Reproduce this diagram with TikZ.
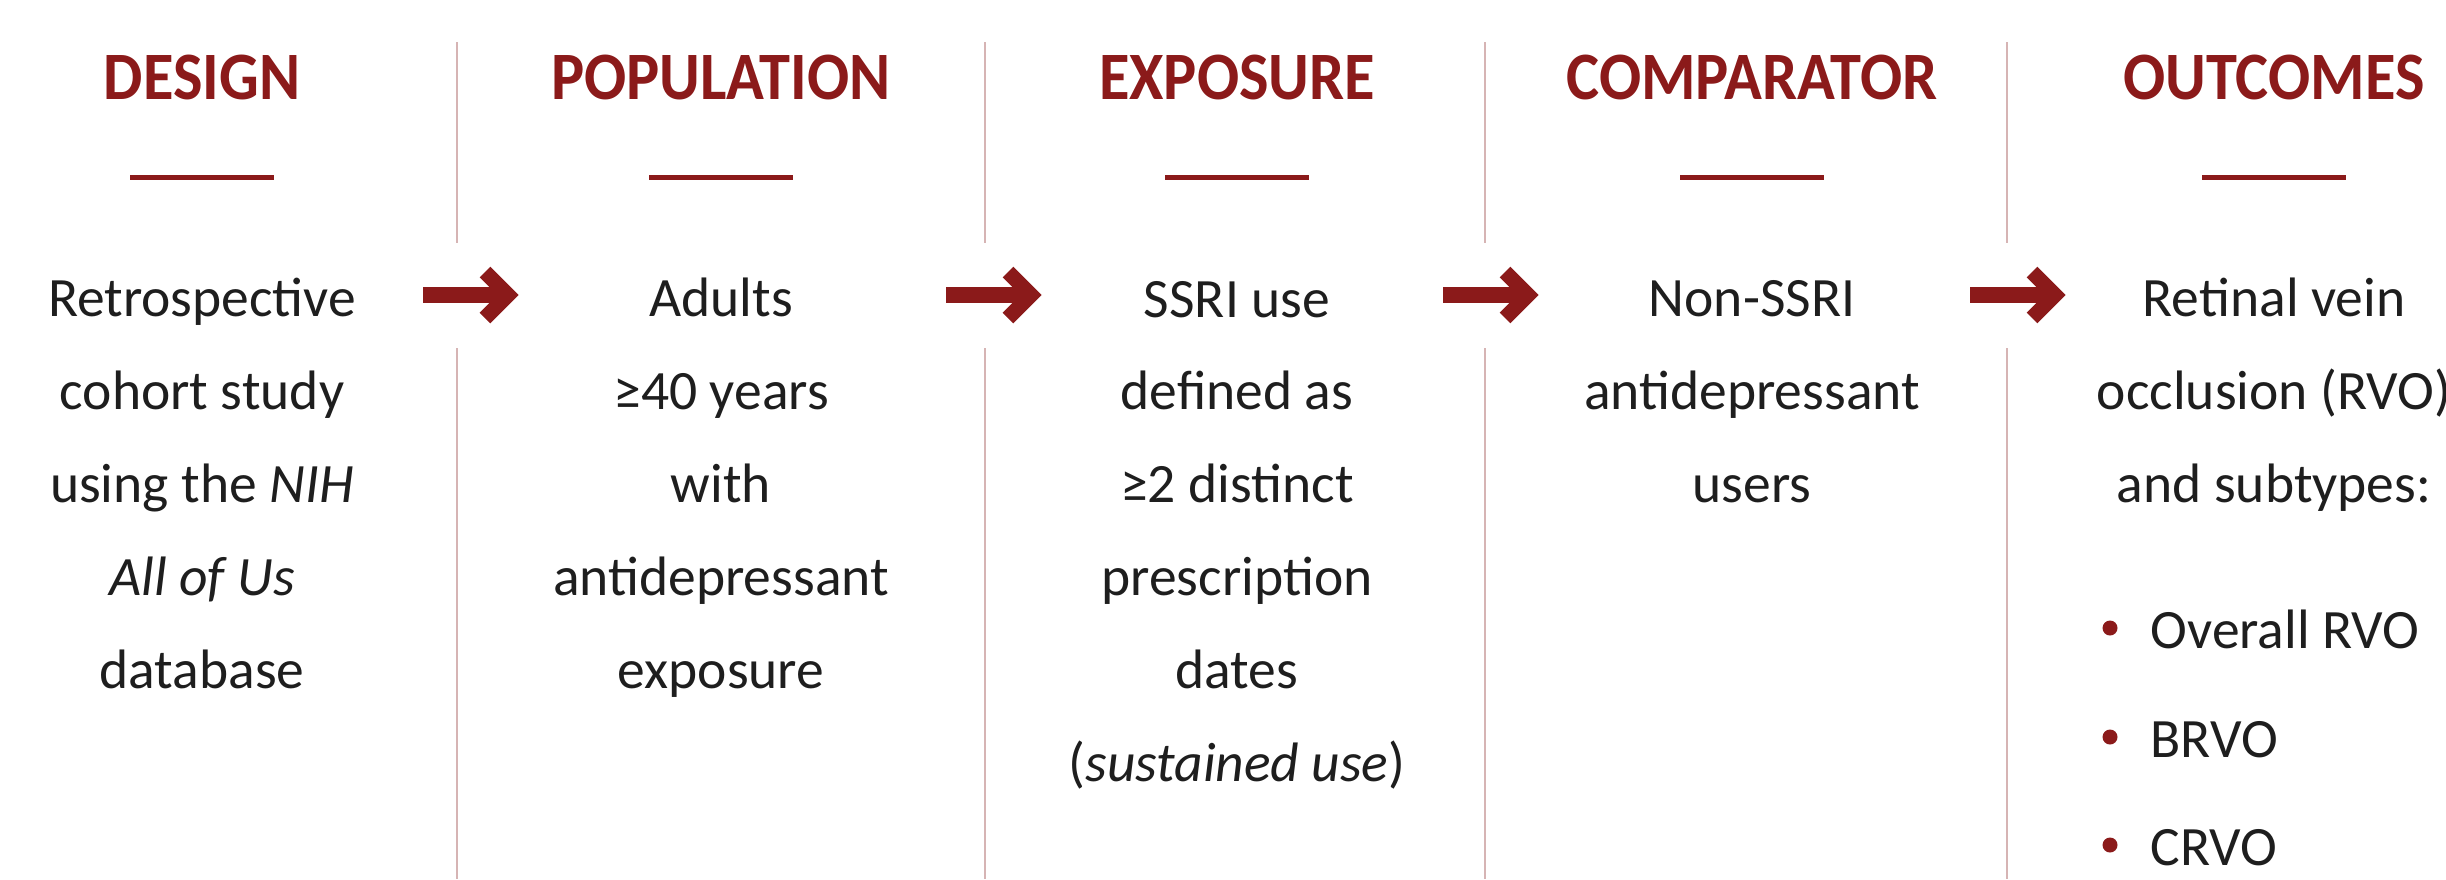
\documentclass[tikz,border=0pt]{standalone}
\usepackage{fontspec}
\setmainfont{Carlito}
\newfontfamily\headfont[FakeStretch=0.92]{Carlito}
\usepackage{tikz}
\definecolor{accent}{HTML}{8B1A1A}
\definecolor{divline}{HTML}{D6B4B4}
\definecolor{ink}{HTML}{1E1E1E}

\begin{document}
\begin{tikzpicture}[
		heading/.style={anchor=base, inner sep=0pt, text=accent, font=\headfont\bfseries\fontsize{19.3}{20}\selectfont},
		headrule/.style={draw=accent, line width=0.05cm},
		body/.style={anchor=base, inner sep=0pt, align=center, text=ink, font=\fontsize{15.8}{26.4}\selectfont},
		bulletitem/.style={anchor=base west, inner sep=0pt, text=ink, font=\fontsize{15.8}{26.4}\selectfont},
		divider/.style={draw=divline, line width=0.025cm},
		flowarrow/.style={draw=accent, line width=0.16cm},
		flowhead/.style={draw=accent, line width=0.15cm, miter limit=4}
	]
			\useasboundingbox (0,0) rectangle (24.46,-8.79);
			\fill[white] (0,0) rectangle (24.46,-8.79);

			\foreach \x in {4.57,9.85,14.85,20.07} {
				\draw[divider] (\x,-0.42) -- (\x,-2.43);
				\draw[divider] (\x,-3.48) -- (\x,-8.79);
			}

			\foreach \x/\name/\txt in {2.02/design/DESIGN, 7.21/population/POPULATION, 12.37/exposure/EXPOSURE, 17.52/comparator/COMPARATOR, 22.74/outcomes/OUTCOMES} {
				\node[heading] (\name) at (\x,-0.99) {\txt};
				\draw[headrule] (\x-0.72,-1.77) -- (\x+0.72,-1.77);
			}

			% base anchor sits on the last line (first line at y=-3.16, 0.93 apart)
			\node[body] (designtxt) at (2.02,-6.88) {Retrospective\\cohort study\\using the \textit{NIH}\\\textit{All of Us}\\database};
			\node[body] (populationtxt) at (7.21,-6.88) {Adults\\≥40 years\\with\\antidepressant\\exposure};
			\node[body] (exposuretxt) at (12.37,-7.81) {SSRI use\\defined as\\≥2 distinct\\prescription\\dates\\(\textit{sustained use})};
			\node[body] (comparatortxt) at (17.52,-5.02) {Non-SSRI\\antidepressant\\users};
			\node[body] (outcomestxt) at (22.74,-5.02) {Retinal vein\\occlusion (RVO)\\and subtypes:};

			\foreach \y/\name/\txt in {-6.48/overall/Overall RVO, -7.57/brvo/BRVO, -8.65/crvo/CRVO} {
				\node[bulletitem] (\name) at (21.50,\y) {\txt};
				\fill[accent] (21.10,\y+0.20) circle (0.075);
			}

			\foreach \a [count=\i] in {4.23,9.46,14.43,19.70} {
				\coordinate (arr\i) at (\a,-2.95);
				\draw[flowarrow] (arr\i) -- ++(0.84,0) coordinate (tip\i);
				\draw[flowhead] (tip\i) ++(-0.22,0.23) -- ++(0.23,-0.23) -- ++(-0.23,-0.23);
			}
		\end{tikzpicture}
\end{document}
